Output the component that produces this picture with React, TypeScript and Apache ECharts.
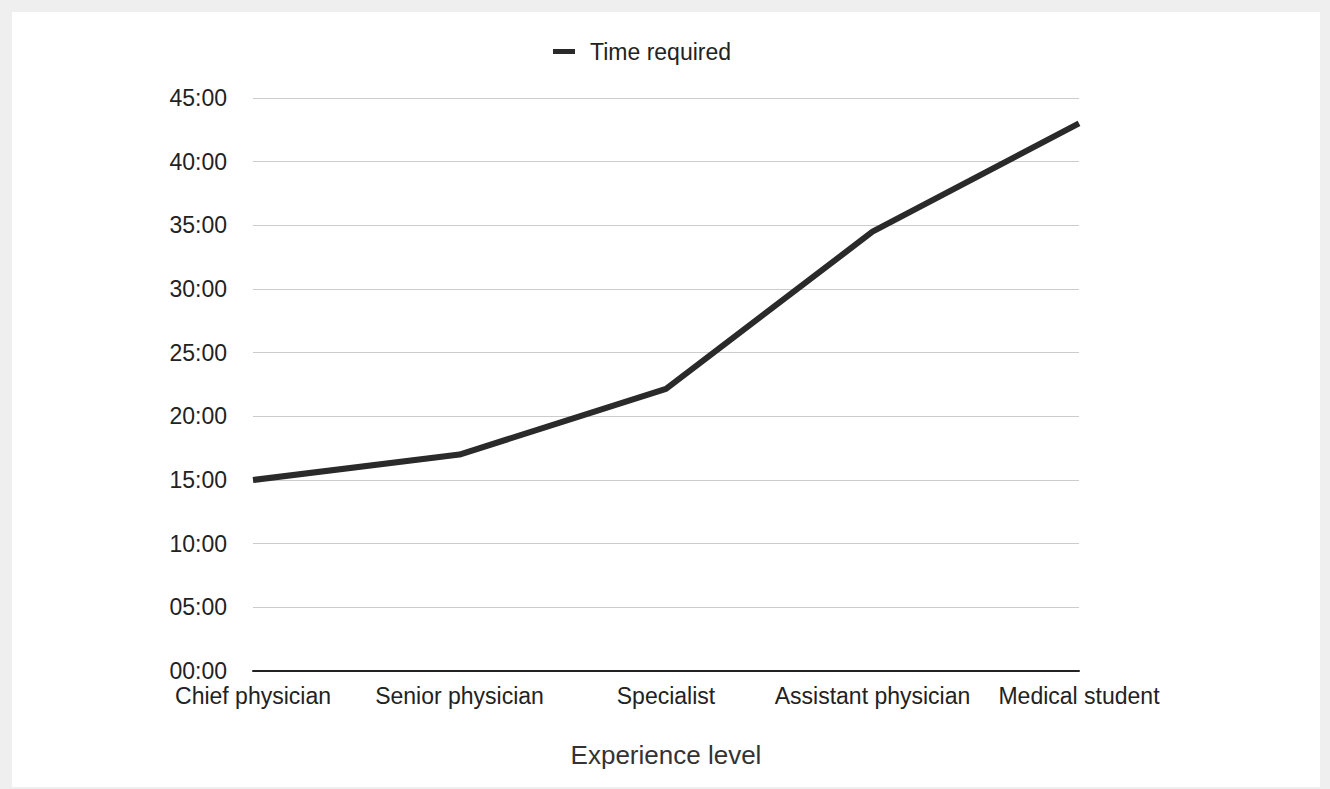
import React, { useEffect, useRef } from "react";
import * as echarts from "echarts";

const categories = [
  "Chief physician",
  "Senior physician",
  "Specialist",
  "Assistant physician",
  "Medical student",
];
// time required in minutes
const timeRequired = [15, 17, 22.15, 34.5, 43];
const seriesName = "Time required";
const xAxisName = "Experience level";

const FONT = "'Liberation Sans', Arial, Helvetica, sans-serif";

export default function App() {
  const ref = useRef<HTMLDivElement>(null);
  useEffect(() => {
    if (!ref.current) return;
    const chart = echarts.init(ref.current, undefined, { renderer: "svg" });
    chart.setOption({
      animation: false,
      textStyle: { fontFamily: FONT },
      legend: {
        data: [seriesName],
        left: 536,
        top: 23,
        icon: "rect",
        itemWidth: 22,
        itemHeight: 5,
        textStyle: {
          fontFamily: FONT,
          fontSize: 23,
          color: "#222",
          padding: [0, 0, 0, 10],
        },
      },
      grid: { left: 241, right: 241, top: 86, bottom: 116, containLabel: false },
      xAxis: {
        type: "category",
        data: categories,
        boundaryGap: false,
        name: xAxisName,
        nameLocation: "middle",
        nameGap: 71,
        nameTextStyle: { fontFamily: FONT, fontSize: 26, color: "#333" },
        axisLine: { show: true, lineStyle: { color: "#222", width: 2 } },
        axisTick: { show: false },
        axisLabel: {
          fontFamily: FONT,
          fontSize: 23,
          lineHeight: 18,
          color: "#222",
          margin: 16,
          interval: 0,
        },
        splitLine: { show: false },
      },
      yAxis: {
        type: "value",
        min: 0,
        max: 45,
        interval: 5,
        axisLine: { show: false },
        axisTick: { show: false },
        axisLabel: {
          fontFamily: FONT,
          fontSize: 23,
          lineHeight: 18,
          color: "#222",
          margin: 26,
          formatter: (v: number) => String(v).padStart(2, "0") + ":00",
        },
        splitLine: { lineStyle: { color: "#cccccc", width: 1 } },
      },
      series: [
        {
          name: seriesName,
          type: "line",
          data: timeRequired,
          showSymbol: false,
          symbol: "none",
          itemStyle: { color: "#2a2a2a" },
          lineStyle: { color: "#2a2a2a", width: 6 },
        },
      ],
    });
    return () => chart.dispose();
  }, []);
  return (
    <div
      style={{
        position: "fixed",
        left: 0,
        top: 0,
        width: 1330,
        height: 789,
        background: "#efefef",
      }}
    >
      <div
        style={{
          position: "absolute",
          left: 12,
          top: 12,
          width: 1308,
          height: 775,
          background: "#ffffff",
        }}
      >
        <div ref={ref} style={{ width: 1308, height: 775 }} />
      </div>
    </div>
  );
}
